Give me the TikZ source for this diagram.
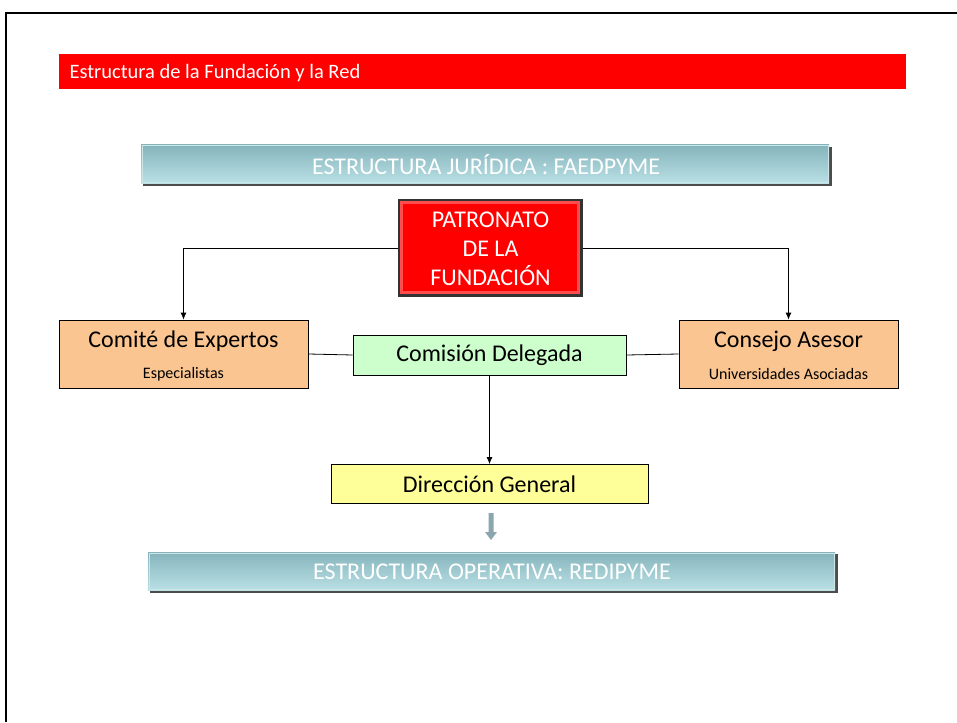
\documentclass[tikz,border=0pt]{standalone}
\usepackage{fontspec}
\setmainfont{Carlito}
\usetikzlibrary{arrows.meta}
\definecolor{hdrred}{HTML}{FF0000}
\definecolor{peach}{HTML}{FAC590}
\definecolor{mint}{HTML}{CCFFCC}
\definecolor{lemon}{HTML}{FFFF99}
\definecolor{tealtop}{HTML}{86B4BC}
\definecolor{tealbot}{HTML}{B9E0E5}
\definecolor{arrgray}{HTML}{8CA6AE}
\tikzset{
  px/.style={x=1pt,y=-1pt},
  boxbase/.style={draw=black, line width=0.8pt, inner sep=0pt},
  bartext/.style={text=white, font=\fontsize{24}{26}\selectfont},
  bigtext/.style={font=\fontsize{24}{26}\selectfont},
  smalltext/.style={font=\fontsize{16}{18}\selectfont},
  link/.style={draw=black, line width=0.8pt},
  arr/.style={link, -{Latex[length=7pt,width=6pt]}},
}
\begin{document}
\begin{tikzpicture}[px]
\useasboundingbox (0,0) rectangle (957,722);
% frame
\draw[line width=2.2pt] (6,722) -- (6,13) -- (957,13);
% header
\fill[hdrred] (59,54) rectangle (906,89);
\node[anchor=west, text=white, font=\fontsize{20.5}{22}\selectfont] (hdr) at (66,73) {Estructura de la Fundación y la Red};
% top bar
\fill[black!70] (143,147) rectangle (832,186);
\shade[top color=tealtop, bottom color=tealbot] (141,145) rectangle (829,183);
\draw[white!80!teal, line width=1pt] (142,146) rectangle (828,182);
\node[bartext] (jur) at (486,165) {ESTRUCTURA JURÍDICA : FAEDPYME};
% patronato
\fill[black!80] (398,199) rectangle (583,297);
\fill[red!70!white] (400,201) rectangle (580,294);
\fill[hdrred] (403,204) rectangle (577,291);
\node[inner sep=0pt, minimum width=185pt, minimum height=98pt] (pat) at (490.5,248) {};
\node[align=center, text=white, font=\fontsize{24}{29}\selectfont] (pattxt) at (490.5,249) {PATRONATO\\DE LA\\FUNDACIÓN};
% comite
\node[boxbase, fill=peach, minimum width=249pt, minimum height=68pt] (com) at (183.5,354) {};
\node[bigtext] (comt) at (183.5,341) {Comité de Expertos};
\node[smalltext] (coms) at (183.5,374) {Especialistas};
% consejo
\node[boxbase, fill=peach, minimum width=219pt, minimum height=68pt] (con) at (788.5,354) {};
\node[bigtext] (cont) at (788.5,341) {Consejo Asesor};
\node[smalltext] (cons) at (788.5,374) {Universidades Asociadas};
% comision
\node[boxbase, fill=mint, minimum width=273pt, minimum height=40pt, bigtext] (cd) at (489.5,355) {Comisión Delegada};
% direccion
\node[boxbase, fill=lemon, minimum width=317pt, minimum height=39pt, bigtext] (dg) at (489.5,484) {Dirección General};
% bottom bar
\fill[black!70] (150,554) rectangle (838,593);
\shade[top color=tealtop, bottom color=tealbot] (148,552) rectangle (835,590);
\draw[white!80!teal, line width=1pt] (149,553) rectangle (834,589);
\node[bartext] (ope) at (492,572) {ESTRUCTURA OPERATIVA: REDIPYME};
% connectors
\draw[arr] (pat.west) -| (com.north);
\draw[arr] (pat.east) -| (con.north);
\draw[link] (com.east) -- (cd.west);
\draw[link] (cd.east) -- (con.west);
\draw[arr] (cd.south) -- (dg.north);
% gray block arrow
\fill[arrgray] (488.5,513) -- (493.5,513) -- (493.5,532) -- (497,532) -- (491,540) -- (485,532) -- (488.5,532) -- cycle;
\end{tikzpicture}
\end{document}
